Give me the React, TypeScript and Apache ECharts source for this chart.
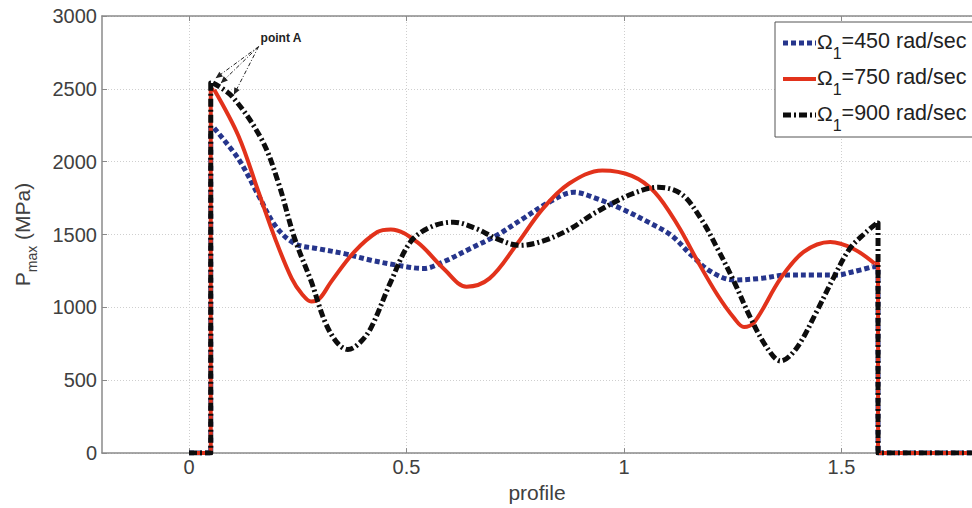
import React, { useEffect, useRef } from "react";
import * as echarts from "echarts";

// ---------- data ----------
const xTickValues = [0, 0.5, 1, 1.5];
const xMin = -0.2;
const xMax = 1.8;
const yMin = 0;
const yMax = 3000;
const yInterval = 500;

const profileStart = 0; // profile where the zero segment begins
const stepUpX = 0.05; // profile of the jump up
const stepDownX = 1.584; // profile of the drop to zero
const profileEnd = 1.8;

const legendSpeeds = ["450", "750", "900"];

// Omega1 = 450 rad/sec
const profile450 = [0.058, 0.114, 0.16, 0.198, 0.243, 0.296, 0.357, 0.418, 0.478, 0.539, 0.585, 0.646, 0.707, 0.767, 0.828, 0.885, 0.934, 0.995, 1.056, 1.109, 1.155, 1.2, 1.253, 1.314, 1.375, 1.436, 1.489, 1.527, 1.572];
const pmax450 = [2230, 2017, 1767, 1562, 1438, 1403, 1369, 1324, 1290, 1267, 1313, 1403, 1494, 1608, 1722, 1790, 1750, 1676, 1585, 1494, 1358, 1245, 1188, 1199, 1222, 1222, 1222, 1245, 1279];

// Omega1 = 750 rad/sec
const profile750 = [0.058, 0.114, 0.16, 0.198, 0.236, 0.26, 0.281, 0.3, 0.327, 0.38, 0.433, 0.464, 0.524, 0.585, 0.638, 0.691, 0.752, 0.813, 0.874, 0.95, 1.018, 1.071, 1.124, 1.17, 1.215, 1.253, 1.276, 1.3, 1.36, 1.413, 1.474, 1.527, 1.576];
const pmax750 = [2494, 2175, 1790, 1472, 1199, 1090, 1040, 1060, 1177, 1381, 1517, 1535, 1449, 1267, 1142, 1199, 1426, 1676, 1850, 1940, 1903, 1790, 1562, 1313, 1085, 927, 865, 900, 1199, 1381, 1449, 1403, 1301];

// Omega1 = 900 rad/sec
const profile900 = [0.055, 0.099, 0.167, 0.205, 0.243, 0.281, 0.312, 0.34, 0.365, 0.39, 0.418, 0.464, 0.509, 0.555, 0.608, 0.661, 0.707, 0.76, 0.813, 0.874, 0.934, 1.018, 1.079, 1.132, 1.177, 1.215, 1.253, 1.291, 1.329, 1.36, 1.397, 1.443, 1.481, 1.519, 1.557, 1.582];
const pmax900 = [2540, 2448, 2153, 1860, 1472, 1178, 906, 760, 711, 750, 858, 1177, 1449, 1551, 1585, 1540, 1472, 1426, 1455, 1535, 1650, 1778, 1824, 1778, 1608, 1403, 1177, 927, 722, 632, 722, 972, 1199, 1403, 1517, 1580];

// "point A" annotation (data coordinates)
const pointALabelAt = [0.1645, 2848];
const pointAOrigin = [0.16, 2790];
const pointATargets = [
  [0.061, 2573],
  [0.073, 2539],
  [0.103, 2459],
];

// ---------- styles ----------
const FONT = "'Liberation Sans', Arial, Helvetica, sans-serif";
const BLUE = "#26358c";
const RED = "#e2321b";
const BLACK = "#0d0d0d";
const AXIS = "#8a8a8a";
const TEXT = "#404040";

const seriesStyles = [
  { color: BLUE, width: 5, type: [5, 3] as any },
  { color: RED, width: 4, type: "solid" as any },
  { color: BLACK, width: 5, type: [8, 3, 2, 3] as any },
];

function pairs(xs: number[], ys: number[]) {
  return xs.map((x, i) => [x, ys[i]]);
}

function buildSeries() {
  const sets = [
    [profile450, pmax450],
    [profile750, pmax750],
    [profile900, pmax900],
  ];
  const out: any[] = [];
  sets.forEach(([xs, ys], k) => {
    const st = seriesStyles[k];
    const name = "Ω1=" + legendSpeeds[k] + " rad/sec";
    const last = xs.length - 1;
    const lineStyle = { color: st.color, width: st.width, type: st.type, cap: "butt", join: "round" };
    out.push({
      type: "line",
      name: name + " (edges)",
      data: [
        [profileStart, 0],
        [stepUpX, 0],
        [stepUpX, ys[0]],
        [xs[0], ys[0]],
      ],
      symbol: "none",
      smooth: false,
      lineStyle,
      z: 2 + k,
      silent: true,
    });
    out.push({
      type: "line",
      name,
      data: pairs(xs, ys),
      symbol: "none",
      smooth: 0.35,
      lineStyle,
      z: 2 + k,
      silent: true,
    });
    out.push({
      type: "line",
      name: name + " (end)",
      data: [
        [xs[last], ys[last]],
        [stepDownX, ys[last]],
        [stepDownX, 0],
        [profileEnd, 0],
      ],
      symbol: "none",
      smooth: false,
      lineStyle,
      z: 2 + k,
      silent: true,
    });
  });
  return out;
}

export default function App() {
  const ref = useRef<HTMLDivElement>(null);

  useEffect(() => {
    if (!ref.current) return;
    const chart = echarts.init(ref.current, undefined, { renderer: "svg" });

    const option: any = {
      animation: false,
      backgroundColor: "#ffffff",
      textStyle: { fontFamily: FONT },
      grid: { left: 102, top: 16, width: 878, height: 440 },
      xAxis: [
        {
          type: "value",
          min: xMin,
          max: xMax,
          position: "bottom",
          axisLine: { show: true, onZero: false, lineStyle: { color: AXIS, width: 1.5 } },
          axisTick: { show: true, inside: true, length: 5, customValues: xTickValues, lineStyle: { color: AXIS } },
          axisLabel: { show: true, customValues: xTickValues, fontSize: 20, color: TEXT, fontFamily: FONT, margin: 4 },
          splitLine: { show: true, lineStyle: { color: "#cfcfcf", type: [1, 2], width: 1 } },
          name: "profile",
          nameLocation: "middle",
          nameGap: 19,
          nameTextStyle: { fontSize: 21, color: TEXT, fontFamily: FONT },
        },
        {
          type: "value",
          min: xMin,
          max: xMax,
          position: "top",
          axisLine: { show: true, onZero: false, lineStyle: { color: AXIS, width: 1.5 } },
          axisTick: { show: true, inside: true, length: 5, customValues: xTickValues, lineStyle: { color: AXIS } },
          axisLabel: { show: false },
          splitLine: { show: false },
        },
      ],
      yAxis: [
        {
          type: "value",
          min: yMin,
          max: yMax,
          interval: yInterval,
          axisLine: { show: true, onZero: false, lineStyle: { color: AXIS, width: 1.5 } },
          axisTick: { show: true, inside: true, length: 5, lineStyle: { color: AXIS } },
          axisLabel: { fontSize: 20, color: TEXT, fontFamily: FONT, margin: 5, formatter: (v: number) => String(v) },
          splitLine: { show: true, lineStyle: { color: "#cfcfcf", type: [1, 2], width: 1 } },
          name: "{p|P}{s|max}{p| (MPa)}",
          nameLocation: "middle",
          nameGap: 63,
          nameTextStyle: {
            color: TEXT,
            fontFamily: FONT,
            rich: {
              p: { fontSize: 21, lineHeight: 34, color: TEXT, fontFamily: FONT },
              s: { fontSize: 14, lineHeight: 14, verticalAlign: "bottom", color: TEXT, fontFamily: FONT },
            },
          },
        },
      ],
      series: buildSeries(),
    };

    chart.setOption(option);

    const px = (p: number[]) => chart.convertToPixel({ xAxisIndex: 0, yAxisIndex: 0 }, p) as number[];

    // point A annotation
    const o = px(pointAOrigin);
    const lab = px(pointALabelAt);
    const annot: any[] = [];
    pointATargets.forEach((t) => {
      const p = px(t);
      const dx = p[0] - o[0];
      const dy = p[1] - o[1];
      const len = Math.sqrt(dx * dx + dy * dy) || 1;
      const ux = dx / len;
      const uy = dy / len;
      annot.push({
        type: "line",
        z: 50,
        shape: { x1: o[0], y1: o[1], x2: p[0], y2: p[1] },
        style: { stroke: "#222", lineWidth: 1, lineDash: [4, 2, 1, 2] },
      });
      annot.push({
        type: "polygon",
        z: 50,
        shape: {
          points: [
            [p[0], p[1]],
            [p[0] - ux * 7 - uy * 3, p[1] - uy * 7 + ux * 3],
            [p[0] - ux * 7 + uy * 3, p[1] - uy * 7 - ux * 3],
          ],
        },
        style: { fill: "#222" },
      });
    });
    annot.push({
      type: "text",
      z: 50,
      x: lab[0],
      y: lab[1],
      style: {
        text: "point A",
        fontSize: 12,
        fontWeight: "bold",
        fontFamily: FONT,
        fill: "#222",
        align: "left",
        verticalAlign: "middle",
      },
    });

    // legend box
    const legendX = 775;
    const legendY = 22;
    const rowH = 36;
    const legendEls: any[] = [
      {
        type: "rect",
        z: 60,
        shape: { x: legendX, y: legendY, width: 220, height: 115 },
        style: { fill: "#ffffff", stroke: "#555555", lineWidth: 1 },
      },
    ];
    legendSpeeds.forEach((s, k) => {
      const st = seriesStyles[k];
      const cy = 43 + k * rowH;
      legendEls.push({
        type: "line",
        z: 61,
        shape: { x1: legendX + 8, y1: cy, x2: legendX + 41, y2: cy },
        style: {
          stroke: st.color,
          lineWidth: st.width,
          lineDash: Array.isArray(st.type) ? st.type : null,
          lineCap: "butt",
        },
      });
      legendEls.push({
        type: "text",
        z: 61,
        x: legendX + 42,
        y: cy - 22,
        style: {
          text: "{o|Ω}{s|1}{t|=" + s + " rad/sec}",
          verticalAlign: "top",
          align: "left",
          rich: {
            o: { fontSize: 21, lineHeight: 40, fontFamily: FONT, fill: "#222" },
            s: { fontSize: 16, lineHeight: 15, verticalAlign: "bottom", fontFamily: FONT, fill: "#222" },
            t: { fontSize: 21.5, lineHeight: 40, fontFamily: FONT, fill: "#222" },
          },
        },
      });
    });

    chart.setOption({ graphic: [...annot, ...legendEls] });

    return () => chart.dispose();
  }, []);

  return (
    <div
      ref={ref}
      style={{ position: "fixed", left: 0, top: 0, width: 972, height: 508, background: "#fff" }}
    />
  );
}
